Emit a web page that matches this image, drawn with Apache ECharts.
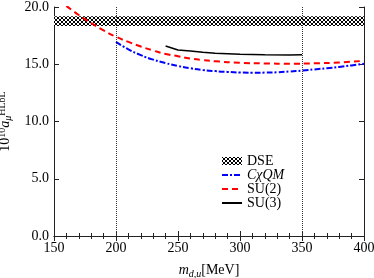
<!DOCTYPE html>
<html><head><meta charset="utf-8">
<script src="https://cdn.jsdelivr.net/npm/echarts@6/dist/echarts.min.js"></script>
<style>html,body{margin:0;padding:0;background:#fff}#c{width:374px;height:278px}</style>
</head><body><div id="c"></div>
<script>
const xTicks = [150, 200, 250, 300, 350, 400];
const yTicks = [0, 5, 10, 15, 20];
const dseBand = [18.35, 19.2];
const vLines = [200, 350];
const su2M = [160,170,180,190,200,210,220,230,240,250,260,270,280,300,320,340,360,380,400];
const su2V = [20.1,19.3,18.6,17.95,17.4,16.95,16.55,16.2,15.9,15.7,15.5,15.36,15.26,15.13,15.07,15.05,15.08,15.16,15.3];
const cqmM = [200,210,220,230,240,250,260,270,280,290,300,310,320,330,340,350,360,370,380,390,400];
const cqmV = [16.95,16.3,15.8,15.4,15.1,14.85,14.65,14.5,14.4,14.33,14.28,14.26,14.27,14.3,14.37,14.44,14.55,14.65,14.77,14.9,15.05];
const su3M = [240,250,260,270,280,300,320,340,350];
const su3V = [16.6,16.25,16.15,16.05,15.97,15.88,15.83,15.81,15.82];
const names = ['DSE', 'C\u03c7QM', 'SU(2)', 'SU(3)'];

function zip(a, b) { return a.map((v, i) => [v, b[i]]); }
const cv = document.createElement('canvas');
cv.width = 4; cv.height = 4;
const g = cv.getContext('2d');
g.fillStyle = '#fff'; g.fillRect(0, 0, 4, 4);
g.strokeStyle = '#000'; g.lineWidth = 1;
g.beginPath(); g.moveTo(0, 0); g.lineTo(4, 4); g.moveTo(4, 0); g.lineTo(0, 4); g.stroke();
const pat = { image: cv, repeat: 'repeat' };

const font = 'Liberation Serif';
const chart = echarts.init(document.getElementById('c'));
const axCol = '#222';
chart.setOption({
  animation: false,
  grid: { left: 54, right: 10, top: 7, bottom: 42, containLabel: false, outerBoundsMode: 'none' },
  xAxis: [{
    type: 'value', min: 150, max: 400, interval: 50,
    name: '{i|m}{s|d,u}{t|[MeV]}', nameLocation: 'middle', nameGap: 26,
    nameTextStyle: { rich: {
      i: { fontFamily: font, fontStyle: 'italic', fontSize: 14, color: '#000' },
      s: { fontFamily: font, fontStyle: 'italic', fontSize: 10, color: '#000', padding: [7, 0, 0, 0] },
      t: { fontFamily: font, fontSize: 14, color: '#000' } } },
    axisLine: { lineStyle: { color: axCol } },
    axisTick: { inside: true, length: 5, lineStyle: { color: axCol } },
    minorTick: { show: true, splitNumber: 5, length: 3, lineStyle: { color: axCol } },
    splitLine: { show: false },
    axisLabel: { fontFamily: font, fontSize: 14, color: '#000', margin: 5 }
  }, {
    type: 'value', position: 'top', min: 150, max: 400, interval: 50,
    axisLine: { show: true, lineStyle: { color: axCol } },
    axisTick: { inside: true, length: 5, lineStyle: { color: axCol } },
    minorTick: { show: true, splitNumber: 5, length: 3, lineStyle: { color: axCol } },
    splitLine: { show: false }, axisLabel: { show: false }
  }],
  yAxis: [{
    type: 'value', min: 0, max: 20, interval: 5,
    name: '{t|10}{p|10}{i|a}{s|\u03bc}{p|HLbL}', nameLocation: 'middle', nameGap: 40, nameRotate: 90,
    nameTextStyle: { rich: {
      t: { fontFamily: font, fontSize: 14, color: '#000', lineHeight: 14 },
      p: { fontFamily: font, fontSize: 10, color: '#000', lineHeight: 10, padding: [0, 0, 6, 0] },
      i: { fontFamily: font, fontStyle: 'italic', fontSize: 14, color: '#000', lineHeight: 14 },
      s: { fontFamily: font, fontStyle: 'italic', fontSize: 10, color: '#000', lineHeight: 10, padding: [6, 0, 0, 0] } } },
    axisLine: { show: true, lineStyle: { color: axCol } },
    axisTick: { show: true, inside: true, length: 5, lineStyle: { color: axCol } },
    splitLine: { show: false },
    axisLabel: { fontFamily: font, fontSize: 14, color: '#000', margin: 5, formatter: v => v.toFixed(1) }
  }, {
    type: 'value', position: 'right', min: 0, max: 20, interval: 5,
    axisLine: { show: true, lineStyle: { color: axCol } },
    axisTick: { show: true, inside: true, length: 5, lineStyle: { color: axCol } },
    splitLine: { show: false }, axisLabel: { show: false }
  }],
  legend: {
    orient: 'vertical', left: 216, top: 149, itemWidth: 20, itemHeight: 8, itemGap: 0,
    itemStyle: { opacity: 0 },
    textStyle: { fontFamily: font, fontSize: 14, color: '#000', lineHeight: 13 },
    data: [
      { name: names[0], icon: 'rect', itemStyle: { color: pat, opacity: 1 } },
      { name: names[1], textStyle: { fontStyle: 'italic' } },
      { name: names[2] },
      { name: names[3] }
    ]
  },
  series: [
    { name: names[0], type: 'line', data: [], itemStyle: { color: pat }, symbol: 'none',
      markArea: { silent: true, itemStyle: { color: pat }, data: [[{ yAxis: dseBand[0] }, { yAxis: dseBand[1] }]] },
      markLine: { silent: true, symbol: 'none', label: { show: false },
        lineStyle: { color: '#333', type: [1, 1], width: 1 },
        data: vLines.map(v => ({ xAxis: v })) } },
    { name: names[1], type: 'line', data: zip(cqmM, cqmV), symbol: 'none', smooth: true,
      itemStyle: { color: '#0000ff' }, lineStyle: { color: '#0000ff', width: 2, type: [6, 2, 2, 2] } },
    { name: names[2], type: 'line', data: zip(su2M, su2V), symbol: 'none', smooth: true,
      itemStyle: { color: '#ff0000' }, lineStyle: { color: '#ff0000', width: 2, type: [6, 4] } },
    { name: names[3], type: 'line', data: zip(su3M, su3V), symbol: 'none',
      itemStyle: { color: '#000' }, lineStyle: { color: '#000', width: 1.5 } }
  ]
});
</script></body></html>
